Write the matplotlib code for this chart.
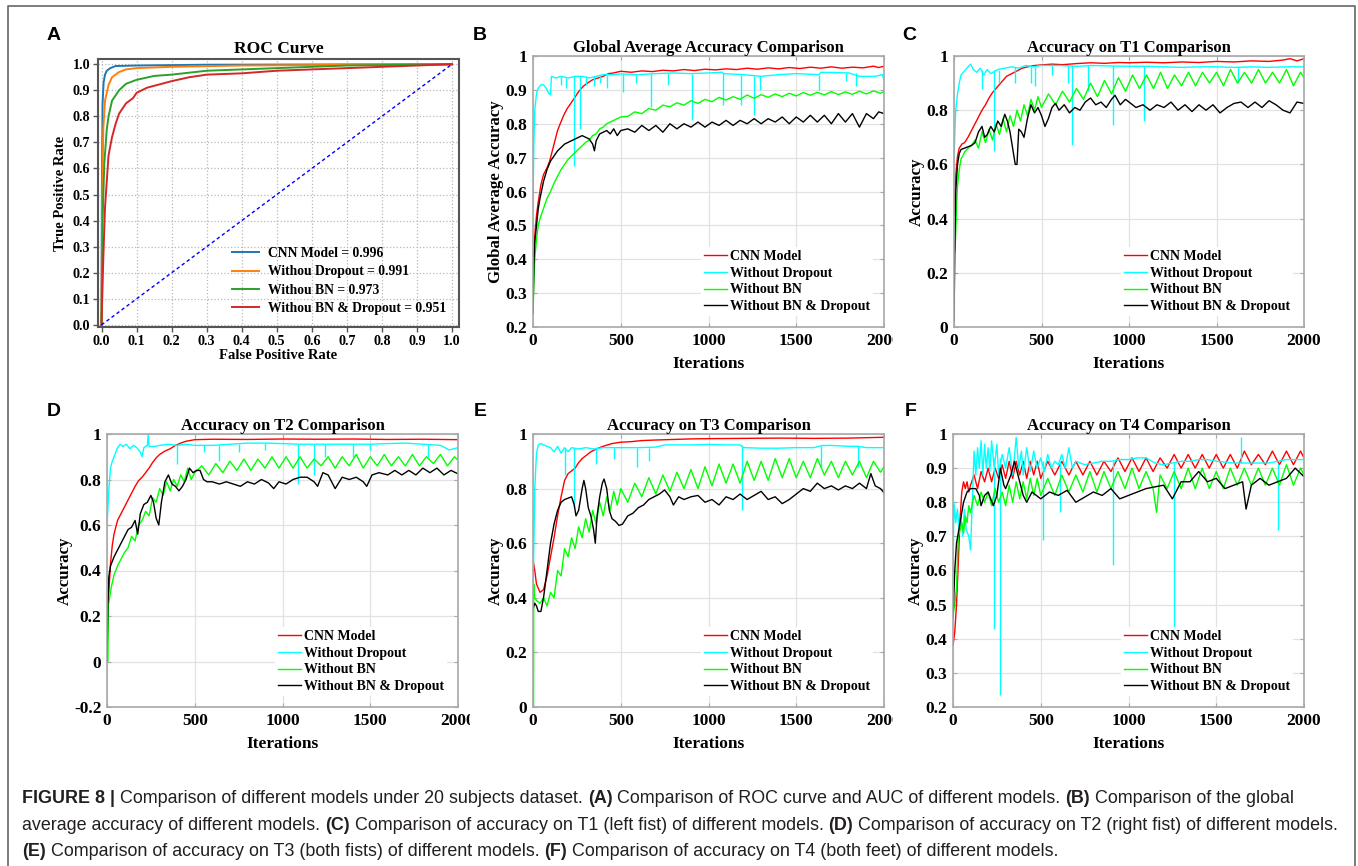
import numpy as np
import matplotlib
matplotlib.use('Agg')
import matplotlib.pyplot as plt
from matplotlib.lines import Line2D
from matplotlib.transforms import Bbox, TransformedBbox
from matplotlib.font_manager import FontProperties

W, H = 1358, 866

# ---------------- panel A: ROC curves, (fpr, tpr) pairs ----------------
roc_labels = ['CNN Model = 0.996', 'Withou Dropout = 0.991',
              'Withou BN = 0.973', 'Withou BN & Dropout = 0.951']
roc_colors = ['#1f77b4', '#ff7f0e', '#2ca02c', '#d62728']
roc_cnn = [(0, 0), (0.001, 0.5), (0.003, 0.85), (0.006, 0.93), (0.01, 0.96),
           (0.015, 0.975), (0.025, 0.985), (0.04, 0.993), (0.1, 0.995),
           (0.3, 0.998), (1, 1)]
roc_nodrop = [(0, 0), (0.002, 0.5), (0.005, 0.75), (0.01, 0.86), (0.02, 0.92),
              (0.03, 0.95), (0.05, 0.97), (0.07, 0.98), (0.1, 0.985),
              (0.2, 0.99), (0.4, 0.995), (1, 1)]
roc_nobn = [(0, 0), (0.003, 0.4), (0.008, 0.62), (0.015, 0.75), (0.02, 0.8),
            (0.03, 0.86), (0.05, 0.9), (0.07, 0.925), (0.1, 0.94), (0.15, 0.955),
            (0.2, 0.96), (0.3, 0.975), (0.5, 0.985), (0.7, 0.995), (1, 1)]
roc_nobn_nodrop = [(0, 0), (0.005, 0.25), (0.01, 0.45), (0.02, 0.65), (0.03, 0.72),
                   (0.04, 0.77), (0.05, 0.81), (0.07, 0.85), (0.09, 0.87),
                   (0.1, 0.89), (0.13, 0.91), (0.2, 0.935), (0.25, 0.95),
                   (0.3, 0.96), (0.4, 0.965), (0.5, 0.975), (0.6, 0.98),
                   (0.8, 0.99), (1, 1)]
chance = [0, 1]

# ---------------- panels B-F: accuracy vs iterations ----------------
model_labels = ['CNN Model', 'Without Dropout', 'Without BN', 'Without BN & Dropout']
model_colors = ['#ff0000', '#00ffff', '#00ff00', '#000000']

# B: global average accuracy
b_cnn = [(0, .36), (5, .42), (10, .47), (20, .53), (30, .57), (45, .62), (60, .65),
         (80, .67), (95, .69), (110, .72), (125, .75), (140, .78), (155, .80),
         (175, .825), (195, .845), (215, .86), (235, .875), (260, .895), (285, .91),
         (310, .92), (340, .93), (370, .935), (400, .94), (430, .948), (460, .95),
         (500, .955), (560, .952), (620, .956), (680, .954), (740, .958), (800, .956),
         (860, .96), (920, .957), (980, .961), (1040, .959), (1100, .962), (1160, .96),
         (1220, .964), (1280, .961), (1340, .965), (1400, .962), (1460, .966),
         (1520, .963), (1580, .967), (1640, .964), (1700, .968), (1760, .964),
         (1820, .967), (1880, .965), (1940, .97), (1970, .966), (2000, .97)]
b_nodrop = [(0, .57), (5, .75), (10, .84), (20, .89), (30, .905), (45, .915), (60, .915),
            (75, .905), (90, .89), (100, .885), (105, .94), (130, .935), (160, .94),
            (200, .935), (240, .94), (280, .94), (320, .935), (360, .94), (400, .945),
            (450, .945), (500, .947), (600, .945), (700, .948), (800, .95), (900, .948),
            (1000, .95), (1080, .952), (1085, .948), (1200, .945), (1300, .94),
            (1400, .945), (1500, .948), (1630, .945), (1640, .952), (1800, .95),
            (1860, .94), (1950, .94), (1990, .945), (2000, .93)]
b_nodrop_spikes = [(160, .915, .94), (190, .905, .935), (234, .675, .94), (266, .785, .94),
                   (300, .915, .94), (345, .91, .94), (380, .92, .94), (420, .905, .945),
                   (513, .895, .947), (585, .92, .945), (670, .85, .948), (769, .915, .95),
                   (908, .81, .948), (1083, .855, .95), (1187, .855, .945),
                   (1257, .825, .94), (1292, .9, .94), (1628, .9, .945),
                   (1785, .925, .95), (1842, .91, .95)]
b_nobn = [(0, .24), (5, .33), (10, .40), (20, .46), (30, .50), (40, .52), (60, .55),
          (80, .58), (100, .60), (120, .625), (140, .645), (160, .665), (180, .68),
          (200, .695), (220, .705), (240, .715), (260, .725), (280, .735), (300, .745),
          (320, .752), (340, .765), (360, .77), (380, .785), (400, .79), (420, .80),
          (440, .805), (460, .81), (480, .815), (500, .82), (540, .822), (580, .835),
          (620, .83), (660, .845), (700, .84), (740, .855), (780, .85), (820, .862),
          (860, .855), (900, .868), (940, .86), (980, .872), (1020, .865), (1060, .878),
          (1100, .87), (1140, .88), (1180, .872), (1220, .885), (1260, .875),
          (1300, .886), (1340, .878), (1380, .888), (1420, .88), (1460, .89),
          (1500, .882), (1540, .892), (1580, .884), (1620, .893), (1660, .885),
          (1700, .895), (1740, .886), (1780, .894), (1820, .887), (1860, .896),
          (1900, .888), (1940, .897), (1980, .89), (2000, .895)]
b_nobn_nodrop = [(0, .24), (5, .38), (10, .45), (20, .50), (30, .55), (40, .58), (60, .63),
                 (80, .665), (100, .69), (120, .705), (140, .72), (160, .73), (180, .74),
                 (200, .745), (220, .75), (240, .755), (260, .76), (280, .765), (300, .76),
                 (320, .755), (340, .74), (350, .72), (360, .75), (380, .77), (400, .775),
                 (420, .78), (440, .77), (460, .785), (480, .765), (500, .78), (540, .785),
                 (580, .775), (620, .795), (660, .78), (700, .795), (740, .775), (780, .8),
                 (820, .785), (860, .8), (900, .79), (940, .805), (980, .79), (1020, .805),
                 (1060, .795), (1100, .81), (1140, .795), (1180, .81), (1220, .8),
                 (1260, .815), (1300, .8), (1340, .815), (1380, .805), (1420, .82),
                 (1460, .8), (1500, .82), (1540, .805), (1580, .825), (1620, .805),
                 (1660, .825), (1700, .8), (1740, .83), (1780, .805), (1820, .83),
                 (1860, .79), (1900, .83), (1940, .815), (1970, .835), (2000, .83)]

# C: accuracy on T1
c_cnn = [(0, .42), (5, .5), (10, .56), (20, .63), (30, .66), (45, .675), (60, .68),
         (80, .7), (100, .725), (120, .75), (140, .775), (160, .8), (180, .82), (200, .845),
         (220, .865), (240, .88), (260, .895), (280, .91), (300, .925), (330, .935),
         (360, .945), (390, .955), (420, .96), (460, .965), (500, .967), (560, .97),
         (620, .968), (700, .972), (780, .975), (860, .973), (940, .976), (1000, .975),
         (1100, .977), (1200, .975), (1300, .978), (1400, .976), (1500, .98),
         (1600, .978), (1700, .982), (1800, .98), (1880, .985), (1920, .99),
         (1960, .982), (2000, .99)]
c_nodrop = [(0, .63), (5, .72), (10, .8), (20, .86), (30, .9), (40, .93), (60, .945),
            (80, .96), (95, .97), (110, .95), (130, .94), (150, .955), (170, .93),
            (190, .95), (210, .935), (250, .95), (290, .955), (330, .96), (370, .955),
            (410, .965), (450, .96), (500, .965), (600, .965), (700, .962), (800, .965),
            (900, .963), (1000, .962), (1100, .962), (1200, .96), (1300, .958),
            (1400, .96), (1500, .96), (1600, .958), (1700, .96), (1800, .958),
            (1900, .96), (2000, .96)]
c_nodrop_spikes = [(160, .88, .95), (230, .65, .95), (260, .9, .95), (350, .9, .96),
                   (440, .9, .96), (460, .89, .96), (560, .93, .965), (650, .9, .965),
                   (675, .67, .965), (765, .87, .965), (910, .745, .963),
                   (1085, .76, .962), (1625, .9, .958)]
c_nobn = [(0, .27), (5, .28), (10, .35), (15, .45), (20, .52), (30, .58), (40, .62),
          (50, .63), (60, .645), (80, .66), (100, .67), (120, .69), (140, .66), (160, .72),
          (180, .68), (200, .73), (220, .69), (240, .75), (260, .71), (280, .77),
          (300, .72), (320, .78), (340, .74), (360, .8), (380, .76), (400, .82),
          (420, .78), (440, .84), (460, .8), (480, .85), (500, .81), (540, .86),
          (580, .82), (620, .87), (660, .83), (700, .88), (740, .84), (780, .9),
          (820, .85), (860, .91), (900, .86), (940, .92), (980, .87), (1020, .93),
          (1060, .88), (1100, .93), (1140, .88), (1180, .94), (1220, .88), (1260, .93),
          (1300, .89), (1340, .94), (1380, .89), (1420, .94), (1460, .9), (1500, .94),
          (1540, .89), (1580, .95), (1620, .9), (1660, .94), (1700, .9), (1740, .95),
          (1780, .9), (1820, .94), (1860, .9), (1900, .95), (1940, .89), (1980, .94),
          (2000, .92)]
c_nobn_nodrop = [(0, .02), (5, .3), (10, .5), (20, .6), (30, .64), (40, .655), (60, .66),
                 (80, .665), (100, .67), (120, .68), (140, .72), (160, .74), (175, .7),
                 (190, .71), (210, .74), (230, .72), (250, .76), (270, .74), (290, .785),
                 (305, .76), (320, .72), (335, .66), (350, .6), (360, .6), (370, .73),
                 (385, .72), (400, .7), (420, .77), (440, .82), (460, .79), (480, .81),
                 (500, .78), (520, .74), (540, .77), (560, .81), (580, .825), (600, .8),
                 (630, .82), (660, .79), (690, .81), (720, .8), (750, .83), (780, .845),
                 (810, .82), (840, .83), (870, .81), (900, .84), (920, .855), (950, .82),
                 (980, .84), (1000, .83), (1040, .81), (1080, .82), (1120, .8),
                 (1160, .82), (1200, .81), (1240, .83), (1280, .8), (1320, .82),
                 (1360, .795), (1400, .82), (1440, .8), (1480, .82), (1520, .79),
                 (1560, .81), (1600, .825), (1640, .83), (1680, .81), (1720, .83),
                 (1760, .81), (1800, .835), (1840, .82), (1880, .8), (1920, .79),
                 (1960, .83), (2000, .825)]

# D: accuracy on T2
d_cnn = [(0, .12), (5, .22), (10, .3), (20, .43), (30, .51), (40, .56), (60, .62),
         (80, .65), (100, .68), (120, .71), (140, .74), (160, .77), (180, .795),
         (200, .81), (220, .83), (240, .85), (260, .875), (280, .895), (300, .91),
         (330, .925), (360, .935), (390, .95), (420, .96), (450, .968), (500, .975),
         (600, .977), (800, .976), (1000, .978), (1200, .977), (1400, .978),
         (1600, .976), (1800, .977), (2000, .975)]
d_nodrop = [(0, .6), (10, .75), (20, .85), (30, .88), (45, .91), (60, .94), (75, .955),
            (90, .945), (110, .955), (130, .935), (150, .95), (170, .94), (190, .92),
            (200, .9), (210, .94), (230, .95), (235, 1.0), (240, .945), (270, .945),
            (300, .95), (350, .955), (400, .95), (450, .955), (500, .95), (600, .95),
            (700, .955), (800, .96), (900, .96), (1000, .958), (1100, .955),
            (1200, .955), (1300, .955), (1400, .955), (1500, .955), (1600, .958),
            (1700, .96), (1800, .955), (1900, .95), (1950, .93), (2000, .94)]
d_nodrop_spikes = [(400, .87, .95), (550, .92, .95), (640, .88, .95), (750, .92, .955),
                   (900, .93, .96), (1090, .78, .955), (1180, .82, .955),
                   (1240, .9, .955), (1400, .9, .955), (1500, .93, .955),
                   (1830, .9, .955)]
d_nobn = [(0, 0), (5, 0), (8, .25), (15, .28), (25, .33), (40, .38), (60, .42),
          (80, .45), (100, .48), (120, .5), (140, .55), (160, .53), (180, .6), (200, .62),
          (220, .66), (240, .64), (260, .72), (280, .7), (300, .76), (320, .73),
          (340, .79), (360, .75), (380, .8), (400, .77), (420, .82), (440, .79),
          (460, .85), (480, .8), (500, .83), (540, .86), (580, .82), (620, .87),
          (660, .83), (700, .88), (740, .84), (780, .89), (820, .84), (860, .89),
          (900, .85), (940, .9), (980, .85), (1020, .9), (1060, .85), (1100, .9),
          (1140, .85), (1180, .89), (1220, .86), (1260, .9), (1300, .85), (1340, .9),
          (1380, .86), (1420, .91), (1460, .85), (1500, .9), (1540, .86), (1580, .91),
          (1620, .86), (1660, .9), (1700, .86), (1740, .91), (1780, .86), (1820, .9),
          (1860, .87), (1900, .91), (1940, .86), (1980, .9), (2000, .885)]
d_nobn_nodrop = [(0, 0), (5, .25), (10, .37), (20, .42), (40, .46), (60, .49), (80, .52),
                 (100, .55), (120, .58), (140, .59), (160, .62), (175, .56), (190, .65),
                 (210, .69), (230, .7), (250, .73), (265, .7), (280, .63), (295, .6),
                 (310, .7), (330, .79), (350, .82), (370, .78), (390, .77), (410, .75),
                 (430, .77), (450, .8), (470, .85), (490, .83), (510, .84), (530, .84),
                 (550, .8), (570, .79), (600, .79), (640, .78), (680, .79), (720, .78),
                 (760, .77), (800, .79), (840, .78), (880, .8), (920, .785), (950, .76),
                 (980, .79), (1020, .78), (1060, .8), (1100, .81), (1140, .81),
                 (1180, .79), (1200, .77), (1230, .83), (1260, .82), (1300, .76),
                 (1340, .81), (1380, .8), (1420, .81), (1460, .79), (1480, .77),
                 (1510, .82), (1550, .83), (1600, .82), (1640, .84), (1680, .82),
                 (1720, .84), (1760, .82), (1800, .85), (1840, .83), (1880, .85),
                 (1920, .82), (1960, .84), (2000, .825)]

# E: accuracy on T3
e_cnn = [(0, .54), (10, .5), (20, .45), (40, .42), (60, .43), (80, .48), (100, .55),
         (120, .62), (140, .7), (160, .77), (180, .83), (200, .855), (220, .865),
         (240, .875), (260, .895), (280, .91), (300, .92), (330, .935), (360, .945),
         (400, .955), (450, .965), (500, .97), (560, .972), (620, .976), (700, .978),
         (800, .98), (900, .982), (1000, .983), (1200, .984), (1400, .985),
         (1600, .984), (1800, .985), (2000, .988)]
e_nodrop = [(0, .43), (5, .6), (10, .8), (20, .93), (30, .96), (45, .965), (60, .96),
            (80, .955), (100, .95), (120, .935), (140, .955), (160, .93), (180, .95),
            (200, .935), (220, .95), (260, .945), (300, .95), (350, .945), (400, .95),
            (450, .95), (500, .95), (600, .95), (700, .952), (750, .96), (800, .96),
            (900, .96), (1000, .962), (1100, .96), (1180, .96), (1200, .95),
            (1300, .948), (1400, .948), (1500, .95), (1600, .95), (1650, .958),
            (1700, .958), (1800, .955), (1850, .955), (1900, .95), (2000, .95)]
e_nodrop_spikes = [(180, .85, .95), (232, .73, .95), (360, .89, .945), (460, .91, .95),
                   (590, .88, .95), (660, .9, .95), (1190, .72, .96), (1640, .88, .955),
                   (1850, .88, .955)]
e_nobn = [(0, 0), (3, 0), (4, .45), (10, .4), (20, .39), (40, .38), (60, .4), (80, .37),
          (100, .42), (120, .4), (140, .5), (160, .48), (180, .58), (200, .55),
          (220, .62), (240, .58), (260, .66), (280, .62), (300, .69), (320, .64),
          (340, .72), (360, .67), (380, .75), (400, .7), (420, .77), (440, .72),
          (460, .79), (480, .74), (500, .8), (540, .75), (580, .82), (620, .77),
          (660, .84), (700, .78), (740, .85), (780, .79), (820, .86), (860, .8),
          (900, .87), (940, .8), (980, .88), (1020, .81), (1060, .89), (1100, .82),
          (1140, .89), (1180, .82), (1220, .9), (1260, .83), (1300, .9), (1340, .83),
          (1380, .91), (1420, .84), (1460, .91), (1500, .84), (1540, .9), (1580, .84),
          (1620, .91), (1660, .85), (1700, .9), (1740, .84), (1780, .9), (1820, .85),
          (1860, .9), (1900, .84), (1940, .9), (1980, .86), (2000, .88)]
e_nobn_nodrop = [(0, .36), (10, .38), (20, .37), (30, .35), (45, .35), (60, .4), (80, .5),
                 (100, .6), (120, .67), (140, .72), (160, .75), (180, .76), (200, .765),
                 (220, .77), (235, .74), (245, .7), (260, .72), (280, .8), (290, .83),
                 (300, .8), (315, .73), (330, .7), (345, .65), (355, .6), (365, .7),
                 (380, .77), (395, .82), (405, .835), (420, .8), (435, .72), (450, .69),
                 (470, .68), (490, .665), (510, .67), (540, .7), (570, .71), (600, .73),
                 (630, .74), (660, .76), (690, .77), (720, .78), (750, .795), (780, .77),
                 (800, .74), (830, .77), (860, .76), (900, .77), (940, .775), (980, .75),
                 (1020, .76), (1060, .74), (1100, .77), (1140, .76), (1180, .78),
                 (1220, .76), (1260, .775), (1300, .79), (1340, .76), (1380, .77),
                 (1420, .745), (1460, .76), (1500, .78), (1540, .8), (1580, .79),
                 (1620, .82), (1660, .8), (1700, .81), (1740, .795), (1780, .81),
                 (1820, .8), (1860, .82), (1900, .8), (1925, .855), (1950, .81),
                 (1980, .8), (2000, .785)]

# F: accuracy on T4
f_cnn = [(0, .38), (10, .42), (20, .5), (30, .62), (40, .75), (50, .83), (60, .86),
         (70, .84), (80, .86), (90, .83), (100, .85), (120, .88), (140, .84), (160, .89),
         (180, .86), (200, .9), (220, .86), (240, .9), (260, .87), (280, .91), (300, .87),
         (320, .92), (340, .87), (360, .92), (380, .88), (400, .92), (420, .87),
         (440, .92), (460, .88), (480, .92), (500, .87), (540, .92), (580, .88),
         (620, .92), (660, .88), (700, .92), (740, .88), (780, .92), (820, .88),
         (860, .92), (900, .89), (940, .93), (980, .89), (1020, .93), (1060, .89),
         (1100, .93), (1140, .89), (1180, .93), (1220, .9), (1260, .94), (1300, .9),
         (1340, .94), (1380, .9), (1420, .94), (1460, .9), (1500, .94), (1540, .9),
         (1580, .94), (1620, .9), (1660, .95), (1700, .91), (1740, .94), (1780, .91),
         (1820, .95), (1860, .91), (1900, .95), (1940, .91), (1980, .95), (2000, .93)]
f_nodrop = [(0, .6), (5, .8), (15, .74), (25, .78), (35, .72), (45, .76), (55, .7),
            (65, .78), (75, .72), (90, .7), (100, .66), (110, .8), (120, .95), (130, .88),
            (140, .96), (150, .9), (160, .98), (170, .88), (180, .97), (190, .9),
            (200, .96), (210, .89), (220, .98), (235, .9), (250, .97), (260, .88),
            (280, .94), (300, .9), (320, .96), (340, .88), (360, .99), (375, .9),
            (390, .95), (400, .88), (420, .96), (440, .89), (460, .95), (480, .9),
            (500, .93), (520, .89), (540, .94), (560, .9), (580, .92), (600, .91),
            (620, .94), (640, .9), (660, .96), (680, .9), (700, .92), (750, .91),
            (800, .915), (850, .92), (900, .92), (950, .925), (1000, .925),
            (1050, .93), (1100, .93), (1150, .915), (1200, .91), (1250, .915),
            (1300, .92), (1350, .92), (1400, .925), (1450, .925), (1500, .92),
            (1600, .915), (1700, .915), (1800, .915), (1900, .925), (2000, .925)]
f_nodrop_spikes = [(232, .43, .93), (270, .235, .93), (510, .69, .92), (610, .77, .92),
                   (910, .615, .92), (1260, .43, .915), (1640, .915, .99),
                   (1850, .72, .915)]
f_nobn = [(0, .47), (10, .5), (20, .55), (30, .7), (40, .72), (50, .74), (60, .71),
          (70, .76), (80, .74), (90, .79), (100, .77), (120, .82), (140, .79), (160, .83),
          (180, .8), (200, .83), (220, .79), (240, .84), (260, .8), (280, .83), (300, .79),
          (320, .85), (340, .8), (360, .86), (380, .81), (400, .86), (420, .81),
          (440, .87), (460, .82), (480, .87), (500, .82), (540, .87), (580, .82),
          (620, .88), (660, .83), (700, .88), (740, .83), (780, .89), (820, .83),
          (860, .89), (900, .84), (940, .89), (980, .84), (1020, .9), (1060, .84),
          (1100, .89), (1140, .84), (1160, .77), (1180, .88), (1220, .84), (1260, .89),
          (1300, .84), (1340, .9), (1380, .84), (1420, .9), (1460, .84), (1500, .89),
          (1540, .84), (1580, .9), (1620, .85), (1660, .9), (1700, .85), (1740, .9),
          (1780, .85), (1820, .9), (1860, .85), (1900, .91), (1940, .85), (1980, .9),
          (2000, .88)]
f_nobn_nodrop = [(0, .46), (10, .6), (20, .68), (40, .74), (60, .8), (80, .83), (100, .84),
                 (130, .84), (150, .82), (160, .79), (180, .82), (200, .83), (230, .79),
                 (250, .82), (270, .9), (290, .85), (300, .84), (330, .88), (350, .92),
                 (370, .88), (400, .82), (420, .8), (450, .83), (500, .81), (550, .83),
                 (600, .82), (650, .835), (700, .8), (800, .83), (850, .82), (900, .84),
                 (950, .81), (1000, .82), (1100, .84), (1200, .85), (1250, .81),
                 (1300, .86), (1350, .86), (1400, .89), (1450, .86), (1500, .87),
                 (1550, .84), (1600, .85), (1650, .86), (1670, .78), (1700, .85),
                 (1750, .87), (1800, .85), (1850, .86), (1900, .87), (1950, .9),
                 (2000, .875)]

iter_ticks = [0, 500, 1000, 1500, 2000]

caption_lines = [
    [('FIGURE 8 |', 'bold'), (' Comparison of different models under 20 subjects dataset. ', 'normal'),
     ('(A)', 'bold'), (' Comparison of ROC curve and AUC of different models. ', 'normal'),
     ('(B)', 'bold'), (' Comparison of the global', 'normal')],
    [('average accuracy of different models. ', 'normal'), ('(C)', 'bold'),
     (' Comparison of accuracy on T1 (left fist) of different models. ', 'normal'),
     ('(D)', 'bold'), (' Comparison of accuracy on T2 (right fist) of different models.', 'normal')],
    [('(E)', 'bold'), (' Comparison of accuracy on T3 (both fists) of different models. ', 'normal'),
     ('(F)', 'bold'), (' Comparison of accuracy on T4 (both feet) of different models.', 'normal')],
]

# ---------------------------------------------------------------------
plt.rcParams['font.family'] = ['Liberation Serif', 'DejaVu Serif']
plt.rcParams['font.weight'] = 'bold'
plt.rcParams['axes.titleweight'] = 'bold'
plt.rcParams['axes.labelweight'] = 'bold'

fig = plt.figure(figsize=(W / 100, H / 100), dpi=100)


def px_axes(left, top, right, bottom):
    return fig.add_axes([left / W, 1 - bottom / H, (right - left) / W, (bottom - top) / H])


def xy(pairs):
    a = np.array(pairs, dtype=float)
    return a[:, 0], a[:, 1]


def panel_letter(x, y, s):
    fig.text(x / W, 1 - y / H, s, fontsize=14, fontweight='bold', family='Liberation Sans',
             ha='center', va='center')


# ---- A ----
axA = px_axes(98, 59, 459, 327)
for pts, lab, col in zip([roc_cnn, roc_nodrop, roc_nobn, roc_nobn_nodrop], roc_labels, roc_colors):
    x, y = xy(pts)
    axA.plot(x, y, color=col, lw=1.4, label=lab)
axA.plot(chance, chance, color='#0000ff', ls=(0, (2.5, 2)), lw=1.0)
axA.set_xlim(-0.01, 1.02)
axA.set_ylim(-0.008, 1.02)
ticks01 = np.round(np.arange(0, 1.01, 0.1), 1)
axA.set_xticks(ticks01)
axA.set_yticks(ticks01)
axA.set_xticklabels([f'{t:.1f}' for t in ticks01])
axA.set_yticklabels([f'{t:.1f}' for t in ticks01])
axA.grid(True, ls=':', color='#b8b8b8', lw=0.9)
for s in axA.spines.values():
    s.set_color('#555555')
    s.set_linewidth(1.5)
axA.tick_params(direction='out', length=3.5, width=1, color='#555555', labelsize=10.2, pad=2)
axA.set_title('ROC Curve', fontsize=12.5, pad=4)
axA.set_xlabel('False Positive Rate', fontsize=10.5, labelpad=1)
axA.set_ylabel('True Positive Rate', fontsize=10.5, labelpad=4)
axA.legend(loc='lower right', frameon=False, fontsize=9.8, handlelength=2.0,
           handletextpad=0.7, labelspacing=0.38, borderaxespad=0.5)
panel_letter(54, 36, 'A')

# ---- B-F ----
panels = [
    dict(box=(533, 56, 884, 327), title='Global Average Accuracy Comparison',
         ylabel='Global Average Accuracy', ylim=(0.2, 1), yticks=np.round(np.arange(0.2, 1.01, 0.1), 1),
         series=[b_cnn, b_nodrop, b_nobn, b_nobn_nodrop], spikes=b_nodrop_spikes,
         letter=(480, 36, 'B'), clip=893),
    dict(box=(954, 56, 1304, 327), title='Accuracy on T1 Comparison',
         ylabel='Accuracy', ylim=(0, 1), yticks=np.round(np.arange(0, 1.01, 0.2), 1),
         series=[c_cnn, c_nodrop, c_nobn, c_nobn_nodrop], spikes=c_nodrop_spikes,
         letter=(909, 36, 'C'), clip=None),
    dict(box=(107, 434, 458, 707), title='Accuracy on T2 Comparison',
         ylabel='Accuracy', ylim=(-0.2, 1), yticks=np.round(np.arange(-0.2, 1.01, 0.2), 1),
         series=[d_cnn, d_nodrop, d_nobn, d_nobn_nodrop], spikes=d_nodrop_spikes,
         letter=(54, 412, 'D'), clip=470),
    dict(box=(533, 434, 884, 707), title='Accuracy on T3 Comparison',
         ylabel='Accuracy', ylim=(0, 1), yticks=np.round(np.arange(0, 1.01, 0.2), 1),
         series=[e_cnn, e_nodrop, e_nobn, e_nobn_nodrop], spikes=e_nodrop_spikes,
         letter=(480, 412, 'E'), clip=893),
    dict(box=(953, 434, 1304, 707), title='Accuracy on T4 Comparison',
         ylabel='Accuracy', ylim=(0.2, 1), yticks=np.round(np.arange(0.2, 1.01, 0.1), 1),
         series=[f_cnn, f_nodrop, f_nobn, f_nobn_nodrop], spikes=f_nodrop_spikes,
         letter=(911, 412, 'F'), clip=None),
]

for p in panels:
    ax = px_axes(*p['box'])
    for i, (pts, lab, col) in enumerate(zip(p['series'], model_labels, model_colors)):
        x, y = xy(pts)
        ax.plot(x, y, color=col, lw=1.0, label=lab)
        if i == 1:
            sx = [s[0] for s in p['spikes']]
            ax.vlines(sx, [s[1] for s in p['spikes']], [s[2] for s in p['spikes']],
                      color=col, lw=1.0)
    ax.set_xlim(0, 2000)
    ax.set_ylim(*p['ylim'])
    ax.set_xticks(iter_ticks)
    ax.set_yticks(p['yticks'])
    ax.set_yticklabels([f'{t:g}' for t in p['yticks']])
    ax.grid(True, color='#e2e2e2', lw=0.9)
    ax.set_axisbelow(True)
    for s in ax.spines.values():
        s.set_color('#a8a8a8')
        s.set_linewidth(1.2)
    ax.tick_params(direction='in', length=3, color='#a8a8a8', labelsize=12.5, pad=4,
                   top=True, right=True)
    ax.set_title(p['title'], fontsize=12, pad=3)
    ax.set_xlabel('Iterations', fontsize=12.5, labelpad=5)
    ax.set_ylabel(p['ylabel'], fontsize=12.2, labelpad=1)
    ax.legend(loc='lower right', fontsize=10, frameon=True, facecolor='white',
              edgecolor='none', framealpha=1, fancybox=False, handlelength=1.7,
              handletextpad=0.2, labelspacing=0.27, borderpad=0.2, borderaxespad=0.8)
    if p['clip'] is not None:
        cb = TransformedBbox(Bbox.from_extents(0, 0, p['clip'] / W, 1), fig.transFigure)
        for lab in ax.get_xticklabels():
            lab.set_clip_on(True)
            lab.set_clip_box(cb)
    lx, ly, lt = p['letter']
    panel_letter(lx, ly, lt)

# ---- frame around the figure (open at the bottom) ----
fig.add_artist(Line2D([8 / W, 8 / W, 1355 / W, 1355 / W], [0, 1 - 6 / H, 1 - 6 / H, 0],
                      transform=fig.transFigure, color='#666666', lw=1.2))

# ---- caption, bold and regular runs chained along each line ----
cap_ax = fig.add_axes([0, 0, 1, 1])
cap_ax.axis('off')
renderer = fig.canvas.get_renderer()
width = 0
for run, wt in caption_lines[1]:
    fp = FontProperties(family='Liberation Sans', weight=wt, size=10)
    w_, _, _ = renderer.get_text_width_height_descent(run, fp, ismath=False)
    width += w_
cap_size = 10 * 1321 / width
for k, line in enumerate(caption_lines):
    yb = 1 - (803 + 26.5 * k) / H
    prev = None
    for run, wt in line:
        kw = dict(fontsize=cap_size, fontweight=wt, family='Liberation Sans', color='#231f20')
        if prev is None:
            prev = cap_ax.text(22 / W, yb, run, ha='left', va='baseline',
                               transform=fig.transFigure, **kw)
        else:
            prev = cap_ax.annotate(run, xy=(1, 0), xycoords=prev, ha='left', va='bottom', **kw)

fig.savefig('out.png', dpi=100)
